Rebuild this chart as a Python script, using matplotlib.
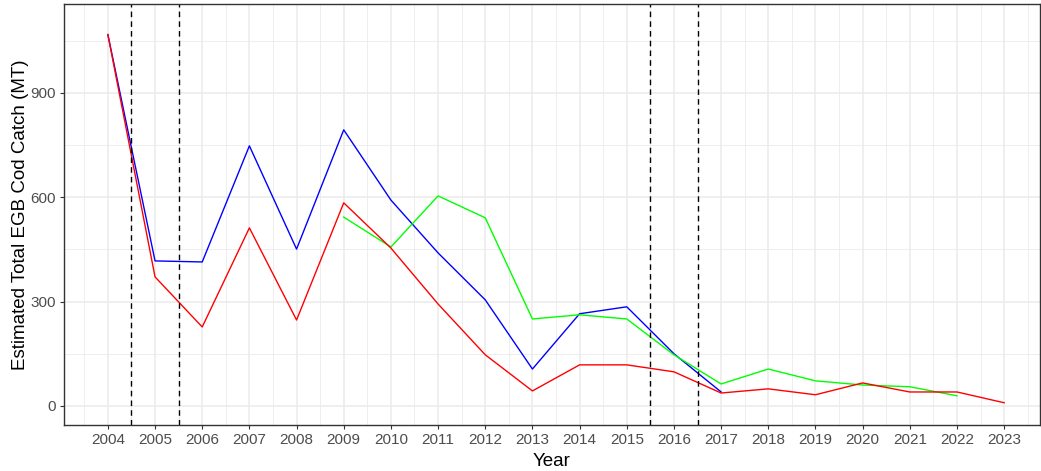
import matplotlib
matplotlib.use('Agg')
import matplotlib.pyplot as plt
from matplotlib.ticker import MultipleLocator
import numpy as np

plt.rcParams['font.family'] = ['Liberation Sans', 'DejaVu Sans']

years = list(range(2004, 2024))
red = [1068, 371, 227, 512, 247, 584, 454, 293, 147, 43,
       118, 118, 98, 37, 49, 32, 66, 40, 40, 9]
blue_years = list(range(2004, 2018))
blue = [1068, 417, 414, 748, 451, 794, 592, 440, 305, 106,
        265, 285, 150, 40]
green_years = list(range(2009, 2023))
green = [543, 457, 604, 541, 250, 262, 250, 147, 63, 106,
         72, 60, 55, 29]
breaks = [2004.5, 2005.5, 2015.5, 2016.5]

fig = plt.figure(figsize=(10.41, 4.71), dpi=100)
ax = fig.add_axes([64/1041, 46/471, 976/1041, 421/471])

ax.plot(blue_years, blue, c='#0000FF', lw=1.0)
ax.plot(green_years, green, c='#00FF00', lw=1.0)
ax.plot(years, red, c='#FF0000', lw=1.0)
for b in breaks:
	ax.axvline(b, c='black', lw=1.0, linestyle=(0, (4, 3)))

ax.set_xlim(2003.07, 2023.76)
ax.set_ylim(-55, 1156)
ax.set_xticks(years)
ax.xaxis.set_minor_locator(MultipleLocator(0.5))
ax.set_yticks([0, 300, 600, 900])
ax.yaxis.set_minor_locator(MultipleLocator(150))

ax.grid(which='major', c='#EBEBEB', lw=1.1)
ax.grid(which='minor', c='#EBEBEB', lw=0.6)
ax.set_axisbelow(True)
ax.tick_params(which='minor', length=0)
ax.tick_params(which='major', length=3, color='#333333', labelsize=11, labelcolor='#4D4D4D', pad=3)
for s in ax.spines.values():
	s.set_color('#333333')
	s.set_linewidth(1.0)

ax.set_xlabel('Year', fontsize=13.5, labelpad=4)
ax.set_ylabel('Estimated Total EGB Cod Catch (MT)', fontsize=13.5, labelpad=1)

fig.savefig('out.png', dpi=100)
plt.close()
